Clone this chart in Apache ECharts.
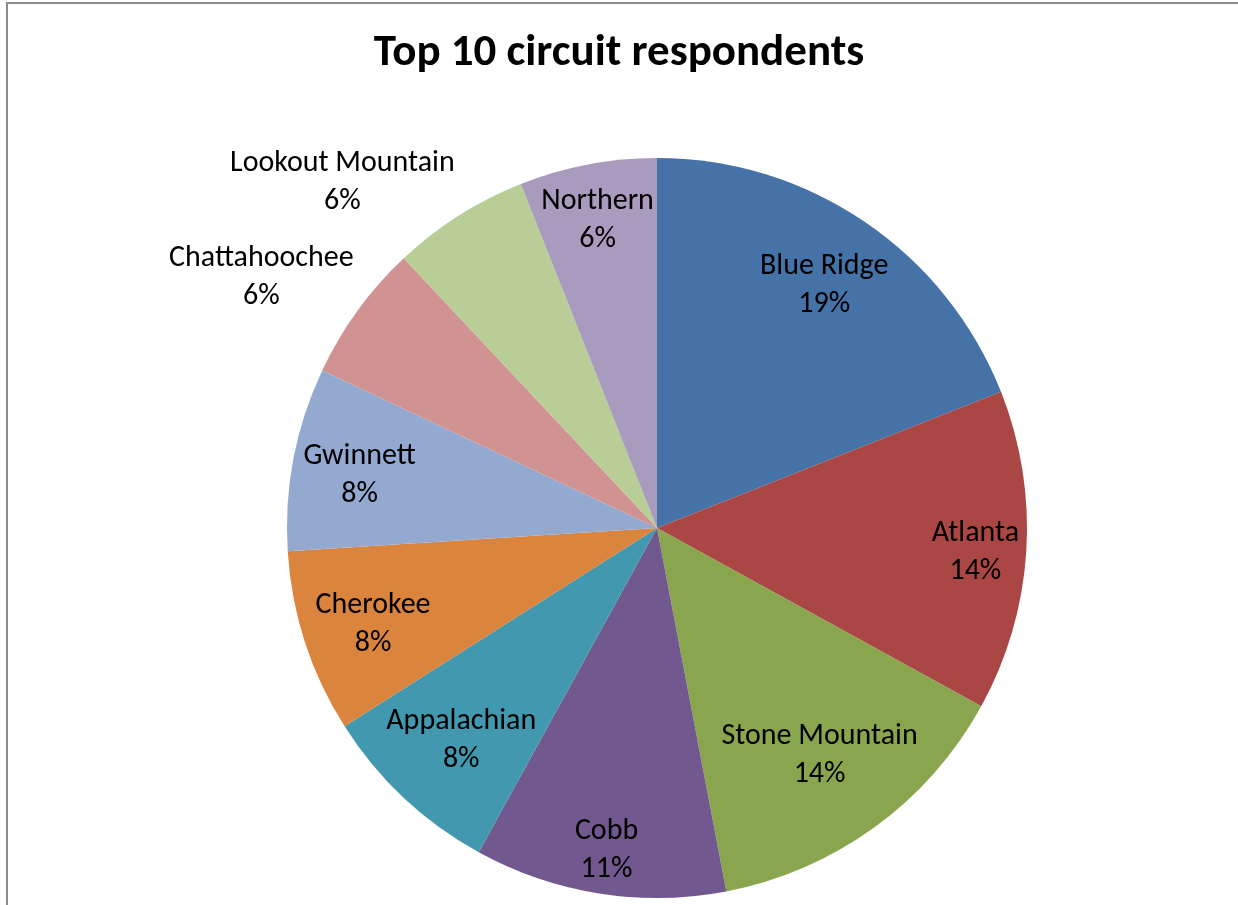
<!DOCTYPE html>
<html>
<head>
<meta charset="utf-8">
<title>Top 10 circuit respondents</title>
<script src="https://cdn.jsdelivr.net/npm/echarts@6/dist/echarts.min.js"></script>
<style>
  html, body { margin: 0; padding: 0; background: #ffffff; }
  #chart { width: 1238px; height: 905px; }
</style>
</head>
<body>
<div id="chart"></div>
<script>
// Circuits and their respondent counts, in clockwise order from 12 o'clock
const circuits = ['Blue Ridge', 'Atlanta', 'Stone Mountain', 'Cobb', 'Appalachian',
                  'Cherokee', 'Gwinnett', 'Chattahoochee', 'Lookout Mountain', 'Northern'];
const respondents = [19, 14, 14, 11, 8, 8, 8, 6, 6, 6];
const sliceColors = ['#4572A7', '#AA4643', '#89A54E', '#71588F', '#4198AF',
                     '#DB843D', '#93A9CF', '#D19392', '#B9CD96', '#A99BBD'];
// Slices whose labels sit outside the pie, next to the rim
const outsideLabels = ['Chattahoochee', 'Lookout Mountain'];

const PIE_CENTER = [657, 528];
const PIE_RADIUS = 370;
// how far (from the centre) an inside label's box may reach towards the rim
const INSIDE_REACH = 365;
const FONT = 'Carlito, Calibri, Lato, "Open Sans", sans-serif';

const chart = echarts.init(document.getElementById('chart'), null, { renderer: 'canvas' });

const option = {
  backgroundColor: '#ffffff',
  animation: false,
  title: {
    text: 'Top 10 circuit respondents',
    left: 'center',
    top: 26,
    textStyle: {
      fontFamily: FONT,
      fontWeight: 'bold',
      fontSize: 45,
      color: '#000000'
    }
  },
  graphic: [{
    type: 'rect',
    silent: true,
    shape: { x: 7, y: 3, width: 1240, height: 920 },
    style: { fill: 'none', stroke: '#8c8c8c', lineWidth: 2 }
  }],
  series: [{
    type: 'pie',
    center: PIE_CENTER,
    radius: PIE_RADIUS,
    startAngle: 90,
    clockwise: true,
    percentPrecision: 0,
    avoidLabelOverlap: false,
    itemStyle: { borderWidth: 0 },
    emphasis: { disabled: true },
    label: {
      show: true,
      position: 'inside',
      formatter: '{b}\n{d}%',
      fontFamily: FONT,
      fontSize: 30,
      lineHeight: 38,
      color: '#000000',
      align: 'center',
      verticalAlign: 'middle'
    },
    labelLine: { show: false },
    labelLayout: function (params) {
      const r = params.labelRect;
      const lx = r.x + r.width / 2;
      const ly = r.y + r.height / 2;
      // inside labels start at half the radius along the slice's mid angle
      const dx = lx - PIE_CENTER[0];
      const dy = ly - PIE_CENTER[1];
      const dist = Math.sqrt(dx * dx + dy * dy) || 1;
      const ux = dx / dist;
      const uy = dy / dist;
      const name = circuits[params.dataIndex];
      if (outsideLabels.indexOf(name) >= 0) {
        // rim point on the mid angle; the label box sits just beyond it
        const ex = PIE_CENTER[0] + ux * PIE_RADIUS;
        const ey = PIE_CENTER[1] + uy * PIE_RADIUS;
        const sx = dx < 0 ? -1 : 1;
        const sy = dy < 0 ? -1 : 1;
        return {
          x: ex + sx * (r.width / 2 + 4),
          y: ey + sy * (r.height / 2 - 1) + 4,
          align: 'center',
          verticalAlign: 'middle'
        };
      }
      // push the box outwards until its outer edge reaches INSIDE_REACH
      const extent = (r.width / 2) * Math.abs(ux) + (r.height / 2) * Math.abs(uy);
      const d = INSIDE_REACH - extent;
      return {
        x: PIE_CENTER[0] + ux * d,
        y: PIE_CENTER[1] + uy * d + 4,
        align: 'center',
        verticalAlign: 'middle'
      };
    },
    data: circuits.map((name, i) => ({
      name: name,
      value: respondents[i],
      itemStyle: { color: sliceColors[i] }
    }))
  }]
};

chart.setOption(option);
</script>
</body>
</html>
